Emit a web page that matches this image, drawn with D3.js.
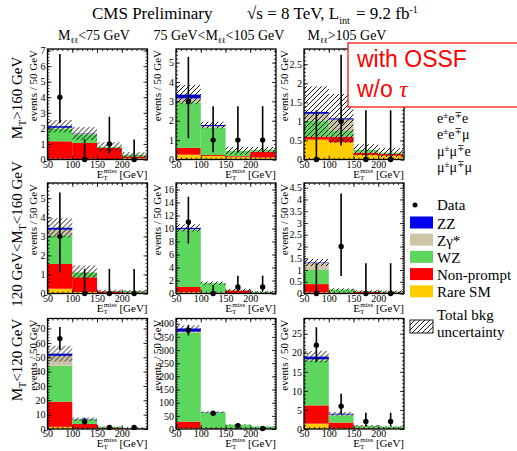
<!DOCTYPE html>
<html>
<head>
<meta charset="utf-8">
<script src="https://cdn.jsdelivr.net/npm/d3@7"></script>
<style>
  body { margin: 0; background: #fff; }
  svg { display: block; }
</style>
</head>
<body>
<svg id="chart" width="517" height="451"></svg>
<script>
// bins of missing ET, 50 GeV wide
var binEdges = [50, 100, 150, 200, 250];
var colLabels = [["M", "ℓℓ", "<75 GeV"], ["75 GeV<M", "ℓℓ", "<105 GeV"], ["M", "ℓℓ", ">105 GeV"]];
var rowLabels = [["M", "T", ">160 GeV"], ["120 GeV<M", "T", "<160 GeV"], ["M", "T", "<120 GeV"]];

// y axis range and label step, [row][col]
var yMax  = [[7.1, 5.7, 2.9], [5.8, 17, 4.7], [77, 420, 29]];
var yStep = [[1, 1, 0.5], [1, 2, 0.5], [10, 50, 5]];

// stacked backgrounds, [row][col][bin], bottom to top
var rareSM = [
  [[0.05, 0.04, 0.03, 0.08], [0.25, 0.18, 0.12, 0.1], [0.52, 0.45, 0.12, 0.1]],
  [[0.25, 0.08, 0.02, 0.04], [0.2, 0.05, 0.08, 0.08], [0.05, 0.02, 0.02, 0.03]],
  [[1.5, 0.3, 0.1, 0.05], [3, 1, 0.5, 0.3], [1.4, 0.2, 0.1, 0.05]]
];
var nonPrompt = [
  [[1.12, 1.02, 0.72, 0.12], [0.35, 0.05, 0.05, 0.3], [0.08, 0.15, 0.06, 0.05]],
  [[1.3, 0.77, 0.08, 0.02], [0.8, 0.05, 0.4, 0.05], [0.35, 0.02, 0.05, 0.02]],
  [[17.5, 3.2, 0.7, 0.25], [25, 2, 0.5, 0.2], [4.8, 1.5, 0.2, 0.05]]
];
var wzVals = [
  [[0.82, 0.56, 0.06, 0.1], [2.35, 1.42, 0.28, 0.1], [0.42, 0.15, 0.07, 0.03]],
  [[1.5, 0.25, 0.02, 0.06], [8.8, 1.5, 0.07, 0.12], [0.6, 0.13, 0.02, 0.03]],
  [[25, 3.0, 0.7, 0.4], [337, 59, 15, 8.5], [11.8, 1.9, 0.5, 0.5]]
];
var zgVals = [
  [[0.05, 0.02, 0, 0], [0.2, 0.07, 0, 0], [0.18, 0.3, 0, 0]],
  [[0.3, 0.02, 0, 0], [0.1, 0, 0, 0], [0.3, 0, 0, 0]],
  [[7, 0.2, 0, 0], [5, 1, 0.5, 0], [0.3, 0.2, 0.05, 0]]
];
var zzVals = [
  [[0.1, 0.02, 0, 0], [0.2, 0.06, 0, 0], [0.05, 0.03, 0, 0]],
  [[0.1, 0, 0, 0], [0.2, 0, 0, 0], [0.02, 0, 0, 0]],
  [[1.5, 0.2, 0, 0], [12, 1, 0, 0], [0.7, 0.2, 0, 0]]
];
// total background uncertainty (+-)
var bkgUnc = [
  [[0.4, 0.42, 0.3, 0.17], [0.5, 0.17, 0.2, 0.15], [0.67, 0.64, 0.15, 0.12]],
  [[0.5, 0.35, 0.08, 0.06], [0.55, 0.25, 0.2, 0.12], [0.15, 0.05, 0.05, 0.05]],
  [[5.5, 1.2, 0.3, 0.2], [12, 3, 1.5, 1], [1.5, 0.5, 0.2, 0.15]]
];
// observed events with error bar ends
var dataObs = [
  [[4, 0, 1, 0], [3, 1, 1, 1], [0, 1, 0, 0]],
  [[3, 0, 0, 0], [11, 0, 1, 1], [0, 2, 0, 0]],
  [[63, 5, 1, 1], [375, 60, 13, 2], [22, 6, 2, 2]]
];
var dataLo = [
  [[2.34, 0, 0.37, 0], [1.1, 0.37, 0.37, 0.37], [0, 0.37, 0, 0]],
  [[1.1, 0, 0, 0], [7.7, 0, 0.37, 0.37], [0, 0.74, 0, 0]],
  [[55.1, 2.75, 0.37, 0.37], [356, 52.5, 9.5, 0.74], [17.6, 3.82, 0.74, 0.74]]
];
var dataHi = [
  [[6.78, 1.29, 2.75, 1.29], [5.3, 2.75, 2.75, 2.75], [1.29, 2.75, 1.29, 1.29]],
  [[5.3, 1.29, 1.29, 1.29], [14.9, 1.29, 2.75, 2.75], [1.29, 4.25, 1.29, 1.29]],
  [[71, 7.81, 2.75, 2.75], [395, 68, 17, 4.25], [26.7, 9.28, 4.25, 4.25]]
];

var legendNames = ["ZZ", "Zγ*", "WZ", "Non-prompt", "Rare SM"];
var flavours = [["e", "±", "e", "∓", "e"], ["e", "±", "e", "∓", "μ"], ["μ", "±", "μ", "∓", "e"], ["μ", "±", "μ", "∓", "μ"]];

var colours = { zz: "#0000f0", zg: "#ccc5a8", wz: "#5cd65c", np: "#ff0000", rare: "#ffcc00" };
var stack = [
  { vals: rareSM, color: colours.rare },
  { vals: nonPrompt, color: colours.np },
  { vals: wzVals, color: colours.wz },
  { vals: zgVals, color: colours.zg },
  { vals: zzVals, color: colours.zz }
];

var colX = [47.5, 176, 304], rowY = [49, 183, 318.5];
var panelW = 100, panelH = 110.5;
var yTitleOff = [-11, -15, -16];
var serif = "Liberation Serif, DejaVu Serif, serif";
var sans = "Liberation Sans, Arial, sans-serif";

var svg = d3.select("#chart").attr("font-family", serif);
svg.append("rect").attr("width", 517).attr("height", 451).attr("fill", "#fff");

var defs = svg.append("defs");
defs.append("pattern")
    .attr("id", "hatch")
    .attr("patternUnits", "userSpaceOnUse")
    .attr("width", 5).attr("height", 5)
  .append("path")
    .attr("d", "M-1,1L1,-1M0,5L5,0M4,6L6,4")
    .attr("stroke", "#000")
    .attr("stroke-width", 0.9);

// title
var title = svg.append("text").attr("y", 18.5).attr("font-size", 17);
title.append("tspan").attr("x", 92).text("CMS Preliminary");
title.append("tspan").attr("x", 247).text("√s = 8 TeV, L");
title.append("tspan").attr("font-size", 10).attr("dy", 5).text("int");
title.append("tspan").attr("dy", -5).attr("dx", 2).text(" = 9.2 fb");
title.append("tspan").attr("font-size", 10).attr("dy", -6).text("-1");

var colCentres = [94, 219, 347];
colLabels.forEach(function(l, c) {
  var t = svg.append("text").attr("x", colCentres[c]).attr("y", 40)
      .attr("font-size", 14).attr("text-anchor", "middle");
  t.append("tspan").text(l[0]);
  t.append("tspan").attr("font-size", 8).attr("dy", 3).text(l[1]);
  t.append("tspan").attr("dy", -3).text(l[2]);
});

var rowCentres = [98, 234, 360];
rowLabels.forEach(function(l, r) {
  var t = svg.append("text")
      .attr("transform", "translate(22," + rowCentres[r] + ") rotate(-90)")
      .attr("font-size", 15).attr("text-anchor", "middle");
  t.append("tspan").text(l[0]);
  t.append("tspan").attr("font-size", 10).attr("dy", 4).text(l[1]);
  t.append("tspan").attr("dy", -4).text(l[2]);
});

for (var r = 0; r < 3; r++) {
  for (var c = 0; c < 3; c++) {
    drawPanel(r, c);
  }
}

function drawPanel(r, c) {
  var x = d3.scaleLinear().domain([50, 252]).range([0, panelW]);
  var y = d3.scaleLinear().domain([0, yMax[r][c]]).range([panelH, 0]);
  var g = svg.append("g").attr("transform", "translate(" + colX[c] + "," + rowY[r] + ")");

  for (var i = 0; i < 4; i++) {
    var x0 = x(binEdges[i]), w = x(binEdges[i + 1]) - x0;
    var base = 0;
    stack.forEach(function(s) {
      var v = s.vals[r][c][i];
      if (v > 0) {
        g.append("rect")
            .attr("x", x0).attr("width", w)
            .attr("y", y(base + v)).attr("height", y(base) - y(base + v))
            .attr("fill", s.color);
      }
      base += v;
    });
    var u = bkgUnc[r][c][i];
    g.append("rect")
        .attr("x", x0).attr("width", w)
        .attr("y", y(base + u)).attr("height", y(Math.max(0, base - u)) - y(base + u))
        .attr("fill", "url(#hatch)");
  }

  // frame and ticks, all inside like ROOT
  var ticksY = d3.range(0, yMax[r][c] + 1e-9, yStep[r][c]);
  var minorY = d3.range(0, yMax[r][c] + 1e-9, yStep[r][c] / 5);
  var minorX = d3.range(50, 251, 10);

  var ax = g.append("g").attr("transform", "translate(0," + panelH + ")")
      .call(d3.axisBottom(x).tickValues([50, 100, 150, 200]).tickSizeInner(-4).tickSizeOuter(0)
        .tickPadding(1));
  g.append("g").attr("transform", "translate(0," + panelH + ")")
      .call(d3.axisBottom(x).tickValues(minorX).tickSizeInner(-2).tickSizeOuter(0).tickFormat(""));
  g.append("g")
      .call(d3.axisTop(x).tickValues([50, 100, 150, 200, 250]).tickSizeInner(-4).tickSizeOuter(0).tickFormat(""));
  g.append("g")
      .call(d3.axisTop(x).tickValues(minorX).tickSizeInner(-2).tickSizeOuter(0).tickFormat(""));
  var ay = g.append("g")
      .call(d3.axisLeft(y).tickValues(ticksY).tickSizeInner(-4).tickSizeOuter(0)
        .tickPadding(2).tickFormat(d3.format("~g")));
  g.append("g")
      .call(d3.axisLeft(y).tickValues(minorY).tickSizeInner(-2).tickSizeOuter(0).tickFormat(""));
  g.append("g").attr("transform", "translate(" + panelW + ",0)")
      .call(d3.axisRight(y).tickValues(ticksY).tickSizeInner(-4).tickSizeOuter(0).tickFormat(""));
  g.append("g").attr("transform", "translate(" + panelW + ",0)")
      .call(d3.axisRight(y).tickValues(minorY).tickSizeInner(-2).tickSizeOuter(0).tickFormat(""));

  g.selectAll(".domain").remove();
  g.selectAll(".tick line").attr("stroke", "#000").attr("stroke-width", 0.8);
  ax.attr("font-family", serif).attr("font-size", 10);
  ay.attr("font-family", serif).attr("font-size", 10);

  g.append("rect").attr("width", panelW).attr("height", panelH)
      .attr("fill", "none").attr("stroke", "#000").attr("stroke-width", 1.3);

  // data with error bars
  for (var j = 0; j < 4; j++) {
    var xc = x((binEdges[j] + binEdges[j + 1]) / 2);
    g.append("line")
        .attr("x1", xc).attr("x2", xc)
        .attr("y1", y(dataLo[r][c][j])).attr("y2", y(dataHi[r][c][j]))
        .attr("stroke", "#000").attr("stroke-width", 1.6);
    g.append("circle").attr("cx", xc).attr("cy", y(dataObs[r][c][j])).attr("r", 2.7).attr("fill", "#000");
  }

  // axis titles
  var xt = g.append("text").attr("x", panelW).attr("y", panelH + 18)
      .attr("font-size", 11).attr("text-anchor", "end");
  xt.append("tspan").text("E");
  xt.append("tspan").attr("font-size", 7).attr("dy", 2).text("T");
  xt.append("tspan").attr("font-size", 7).attr("dx", -4).attr("dy", -7).text("miss");
  xt.append("tspan").attr("dy", 5).text(" [GeV]");

  g.append("text")
      .attr("transform", "translate(" + yTitleOff[c] + ",1) rotate(-90)")
      .attr("font-size", 11).attr("text-anchor", "end")
      .text("events / 50 GeV");
}

// red annotation box
svg.append("rect").attr("x", 348).attr("y", 43).attr("width", 180).attr("height", 64)
    .attr("fill", "#fff").attr("stroke", "#ff0000").attr("stroke-width", 1.2);
svg.append("text").attr("x", 357).attr("y", 67).attr("font-size", 23)
    .attr("font-family", sans).attr("fill", "#ff0000").text("with OSSF");
var wo = svg.append("text").attr("x", 357).attr("y", 97).attr("font-size", 23)
    .attr("font-family", sans).attr("fill", "#ff0000");
wo.append("tspan").text("w/o ");
wo.append("tspan").attr("font-family", serif).attr("font-style", "italic").text("τ");

// lepton flavour lines
flavours.forEach(function(f, k) {
  var t = svg.append("text").attr("x", 437).attr("y", 123 + k * 16.3).attr("font-size", 14);
  t.append("tspan").text(f[0]);
  t.append("tspan").attr("font-size", 9).attr("dy", -5).text(f[1]);
  t.append("tspan").attr("dy", 5).text(f[2]);
  t.append("tspan").attr("font-size", 9).attr("dy", -5).text(f[3]);
  t.append("tspan").attr("dy", 5).text(f[4]);
});

// legend
var leg = svg.append("g");
leg.append("circle").attr("cx", 415).attr("cy", 205).attr("r", 2.5).attr("fill", "#000");
leg.append("text").attr("x", 437).attr("y", 210).attr("font-size", 15).text("Data");
var legColours = [colours.zz, colours.zg, colours.wz, colours.np, colours.rare];
legendNames.forEach(function(n, k) {
  var yy = 216.5 + k * 17.2;
  leg.append("rect").attr("x", 410).attr("y", yy).attr("width", 23).attr("height", 12)
      .attr("fill", legColours[k]);
  leg.append("text").attr("x", 437).attr("y", yy + 12).attr("font-size", 15).text(n);
});
leg.append("rect").attr("x", 410).attr("y", 320).attr("width", 23).attr("height", 13)
    .attr("fill", "url(#hatch)").attr("stroke", "#000").attr("stroke-width", 0.9);
leg.append("text").attr("x", 437).attr("y", 320).attr("font-size", 15).text("Total bkg");
leg.append("text").attr("x", 437).attr("y", 337).attr("font-size", 15).text("uncertainty");
</script>
</body>
</html>
